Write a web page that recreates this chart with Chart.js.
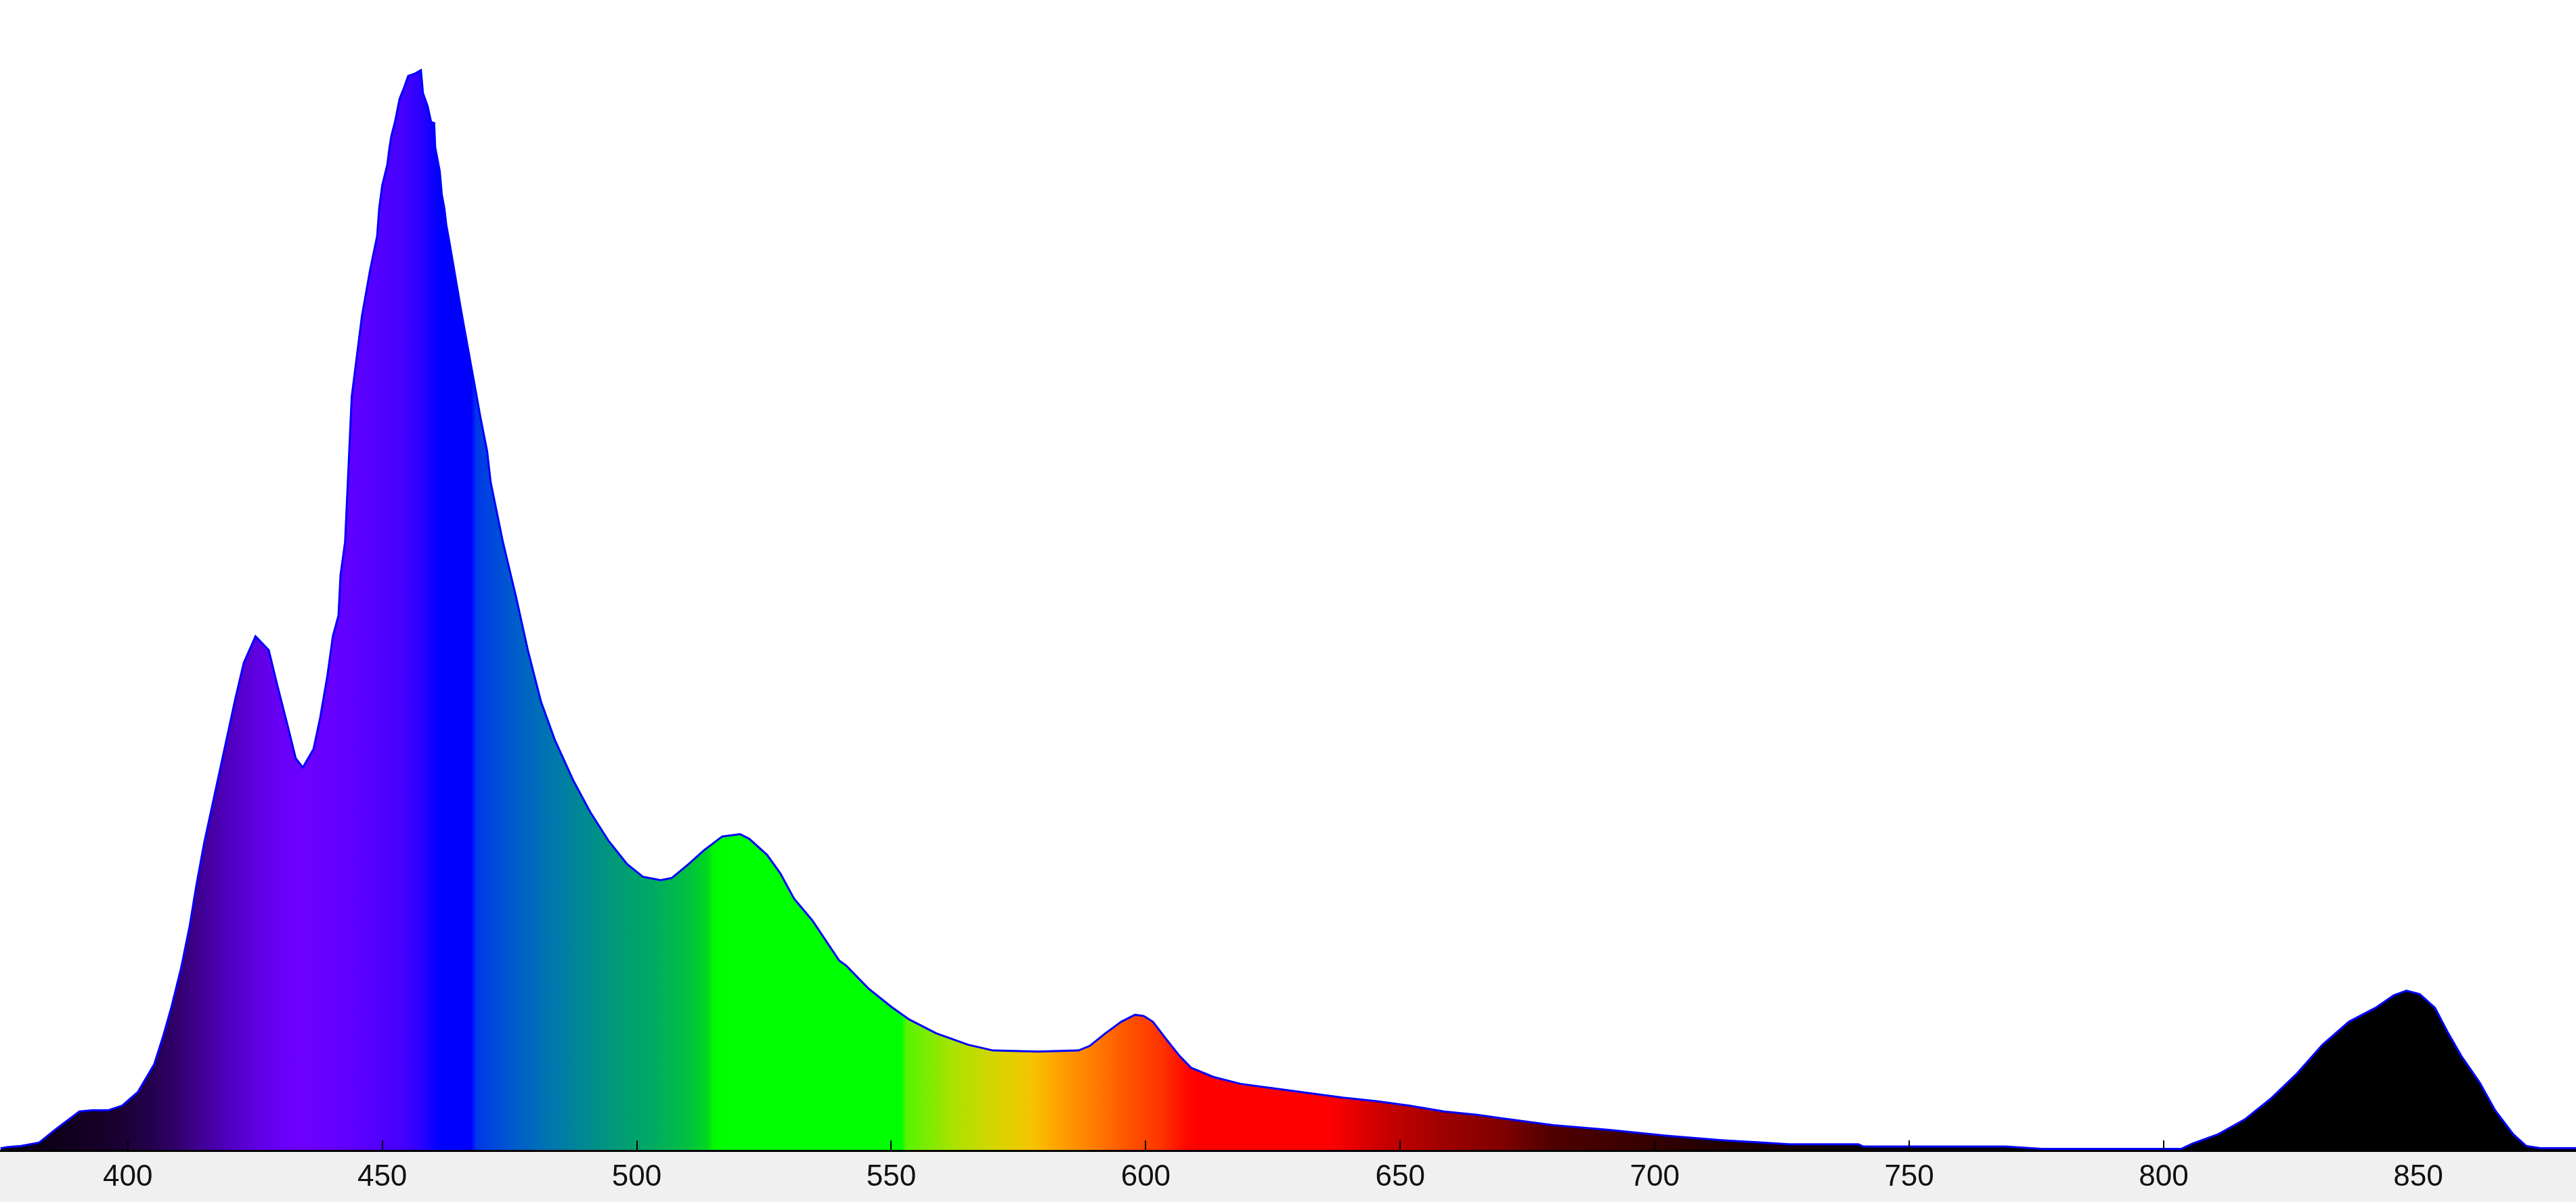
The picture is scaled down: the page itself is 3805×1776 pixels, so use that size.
<!DOCTYPE html>
<html lang="en">
<head>
  <meta charset="UTF-8" />
  <title>Spectrum</title>
  <script src="https://cdn.jsdelivr.net/npm/chart.js"></script>
  <style>
    html, body {
      margin: 0;
      padding: 0;
      background: #ffffff;
      overflow: hidden;
    }
    #wrap {
      width: 3805px;
      height: 1776px;
    }
  </style>
</head>
<body>
  <div id="wrap">
    <canvas id="spectrum" width="3805" height="1776"></canvas>
  </div>

  <script>
    // wavelength (nm) and relative intensity
    const wavelengths = [
      375.0, 376.2, 379.0, 382.6, 386.0, 390.5, 393.0, 396.2, 398.9, 402.0,
      405.2, 407.0, 408.6, 410.5, 412.2, 413.5, 415.0, 417.0, 419.2, 421.1,
      422.8, 425.1, 427.7, 429.4, 431.2, 433.0, 434.4, 436.5, 437.8, 439.2,
      440.3, 441.4, 441.8, 442.7, 444.0, 446.0, 447.6, 449.0, 449.4, 450.0,
      451.0, 451.4, 451.8, 452.5, 453.4, 454.3, 455.1, 456.4, 457.6, 458.0,
      458.9, 459.6, 460.2, 460.4, 461.3, 461.7, 462.2, 462.6, 463.1, 465.5,
      468.0, 469.3, 470.6, 471.3, 473.7, 476.3, 478.6, 481.2, 483.9, 487.5,
      490.9, 494.5, 498.1, 501.2, 504.7, 506.9, 510.2, 513.2, 516.8, 520.3,
      522.1, 525.6, 528.2, 530.9, 534.5, 539.8, 541.1, 545.5, 550.0, 553.5,
      558.8, 565.1, 570.0, 578.8, 586.8, 589.0, 592.1, 595.2, 597.9, 599.6,
      601.4, 604.0, 606.7, 608.9, 613.3, 618.6, 625.3, 632.0, 638.7, 645.3,
      651.9, 658.6, 665.2, 670.1, 680.1, 691.1, 702.2, 713.2, 720.7, 726.5,
      740.0, 741.0, 769.0, 776.0, 803.5, 805.6, 810.6, 815.9, 821.0, 826.2,
      831.2, 836.4, 841.6, 845.2, 847.7, 850.3, 853.3, 855.9, 858.5, 862.1,
      865.1, 868.7, 871.2, 874.0, 881.0
    ];
    const intensity = [
      0.002, 0.003, 0.004, 0.007, 0.019, 0.034, 0.035, 0.035, 0.039, 0.051,
      0.075, 0.100, 0.125, 0.159, 0.196, 0.231, 0.267, 0.308, 0.353, 0.392,
      0.424, 0.447, 0.435, 0.404, 0.373, 0.341, 0.333, 0.349, 0.376, 0.412,
      0.447, 0.465, 0.500, 0.529, 0.655, 0.725, 0.765, 0.795, 0.819, 0.839,
      0.857, 0.871, 0.882, 0.894, 0.914, 0.924, 0.934, 0.936, 0.939, 0.919,
      0.908, 0.894, 0.893, 0.872, 0.851, 0.831, 0.819, 0.804, 0.792, 0.730,
      0.669, 0.637, 0.608, 0.581, 0.529, 0.481, 0.435, 0.390, 0.357, 0.322,
      0.294, 0.269, 0.249, 0.238, 0.235, 0.237, 0.249, 0.261, 0.273, 0.275,
      0.271, 0.257, 0.241, 0.219, 0.200, 0.165, 0.161, 0.141, 0.125, 0.114,
      0.102, 0.092, 0.087, 0.086, 0.087, 0.091, 0.102, 0.112, 0.118, 0.117,
      0.112, 0.097, 0.082, 0.072, 0.064, 0.058, 0.054, 0.050, 0.046, 0.043,
      0.039, 0.034, 0.031, 0.028, 0.022, 0.018, 0.013, 0.009, 0.007, 0.0055,
      0.0055, 0.0035, 0.0035, 0.0015, 0.0015, 0.006, 0.014, 0.027, 0.045, 0.067,
      0.092, 0.112, 0.124, 0.135, 0.139, 0.136, 0.124, 0.102, 0.082, 0.059,
      0.035, 0.014, 0.004, 0.002, 0.002
    ];
    const tickValues = [400, 450, 500, 550, 600, 650, 700, 750, 800, 850];

    // colour of the fill at each wavelength
    const colourStops = [
      [375, "#080010"], [385, "#0e0018"], [395, "#160028"], [400, "#1c0038"],
      [405, "#240050"], [410, "#32006e"], [415, "#42009a"], [420, "#5000c0"],
      [425, "#5e00e0"], [430, "#6800f8"], [435, "#6c00ff"], [440, "#6600ff"],
      [447, "#5800ff"], [454, "#4400ff"], [458, "#2800ff"], [461, "#0000ff"],
      [467.5, "#0000ff"], [468.5, "#0038e8"], [475, "#0058d0"], [483, "#0076b0"],
      [490, "#008a90"], [497, "#009c74"], [503, "#00aa64"], [510, "#00c040"],
      [514, "#00d820"], [515, "#00f800"], [517, "#00ff00"], [552, "#00ff00"],
      [553, "#58f400"], [563, "#b0e000"], [572, "#dcd200"], [578, "#f8c200"],
      [583, "#ffa000"], [590, "#ff7c00"], [596, "#ff5600"], [603, "#ff3400"],
      [608, "#ff0800"], [610, "#ff0000"], [636, "#ff0000"], [647, "#c80000"],
      [658, "#a00000"], [670, "#800000"], [680, "#500000"], [702, "#300000"],
      [720, "#180000"], [740, "#080000"], [760, "#000000"], [881, "#000000"]
    ];

    const xMin = 374.9;
    const xMax = 881;

    let cachedGrad = null;
    let cachedKey = "";
    function spectrumFill(context) {
      const chart = context.chart;
      const area = chart.chartArea;
      if (!area) return "#0000ff";
      const xs = chart.scales.x;
      const key = area.left + ":" + area.right;
      if (cachedGrad && cachedKey === key) return cachedGrad;
      const g = chart.ctx.createLinearGradient(area.left, 0, area.right, 0);
      const w = area.right - area.left;
      colourStops.forEach(function (s) {
        let off = (xs.getPixelForValue(s[0]) - area.left) / w;
        off = Math.min(1, Math.max(0, off));
        g.addColorStop(off, s[1]);
      });
      cachedGrad = g;
      cachedKey = key;
      return g;
    }

    // grey band under the axis, like the original window
    const greyBand = {
      id: "greyBand",
      beforeDraw(chart) {
        const c = chart.ctx;
        const bottom = chart.chartArea.bottom;
        c.save();
        c.fillStyle = "#ffffff";
        c.fillRect(0, 0, chart.width, bottom);
        c.fillStyle = "#f0f0f0";
        c.fillRect(0, bottom, chart.width, chart.height - bottom);
        c.restore();
      }
    };

    new Chart(document.getElementById("spectrum").getContext("2d"), {
      type: "line",
      data: {
        datasets: [{
          data: wavelengths.map((w, i) => ({ x: w, y: intensity[i] })),
          borderColor: "#0000ff",
          borderWidth: 3,
          backgroundColor: spectrumFill,
          fill: "origin",
          pointRadius: 0,
          tension: 0
        }]
      },
      options: {
        responsive: false,
        animation: false,
        devicePixelRatio: 1,
        layout: { padding: 0 },
        plugins: {
          legend: { display: false },
          tooltip: { enabled: false }
        },
        scales: {
          x: {
            type: "linear",
            min: xMin,
            max: xMax,
            afterBuildTicks(scale) {
              scale.ticks = tickValues.map(v => ({ value: v }));
            },
            afterFit(scale) {
              scale.height = 76;
            },
            grid: {
              drawOnChartArea: false,
              drawTicks: true,
              tickLength: -15,
              color: "#000000",
              lineWidth: 2,
              z: 1
            },
            border: {
              display: true,
              color: "#000000",
              width: 3,
              z: 1
            },
            ticks: {
              padding: 28,
              maxRotation: 0,
              autoSkip: false,
              color: "#111111",
              font: { family: "'Liberation Sans', Arial, sans-serif", size: 44 },
              callback: v => String(v)
            }
          },
          y: {
            display: false,
            min: 0,
            max: 1
          }
        }
      },
      plugins: [greyBand]
    });
  </script>
</body>
</html>
